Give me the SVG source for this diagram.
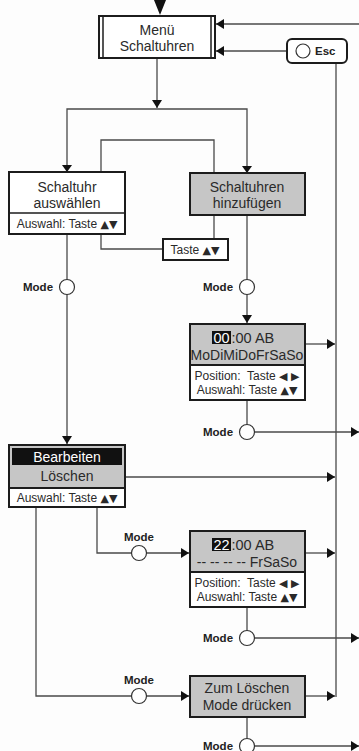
<svg xmlns="http://www.w3.org/2000/svg" width="359" height="751" viewBox="0 0 359 751">
<defs>
<style>
.box{stroke:#1c1c1c;stroke-width:2;fill:#fff}
.gray{fill:#c6c6c6}
.ln{stroke:#4a4a4a;stroke-width:1.3;fill:none}
.t{font-family:"Liberation Sans",Arial,sans-serif;font-size:14px;fill:#2a2a2a;text-anchor:middle}
.s{font-family:"Liberation Sans",Arial,sans-serif;font-size:12px;fill:#2a2a2a;text-anchor:middle}
.m{font-family:"Liberation Sans",Arial,sans-serif;font-size:11.5px;font-weight:bold;fill:#222}
.c{fill:#fff;stroke:#333;stroke-width:1.2}
.sym{font-family:"DejaVu Sans",sans-serif;font-size:11px}
.tm{font-family:"Liberation Sans",Arial,sans-serif;font-size:14.5px;fill:#2a2a2a}
</style>
<marker id="ah" viewBox="0 0 8 10" refX="8" refY="5" markerWidth="8" markerHeight="10" markerUnits="userSpaceOnUse" orient="auto">
<path d="M0,0 L8,5 L0,10 Z" fill="#111"/>
</marker>
</defs>
<rect width="359" height="751" fill="#fdfdfd"/>

<g id="connectors">
<polygon points="154,0 166,0 160,15" fill="#111"/>
<line class="ln" x1="359" y1="24" x2="216" y2="24" marker-end="url(#ah)"/>
<line class="ln" x1="287" y1="51" x2="216" y2="51" marker-end="url(#ah)"/>
<line class="ln" x1="336" y1="63" x2="336" y2="697"/>
<line class="ln" x1="157" y1="58" x2="157" y2="108" marker-end="url(#ah)"/>
<polyline class="ln" points="67,172 67,109 247,109 247,172"/>
<polygon points="62,165 72,165 67,172" fill="#111"/>
<polygon points="242,166 252,166 247,173" fill="#111"/>
<polyline class="ln" points="101,172 101,140 214,140 214,173"/>
<line class="ln" x1="214" y1="215" x2="214" y2="239"/>
<polyline class="ln" points="101,234 101,249 163,249"/>
<line class="ln" x1="67" y1="234" x2="67" y2="444" marker-end="url(#ah)"/>
<line class="ln" x1="247" y1="215" x2="247" y2="323" marker-end="url(#ah)"/>
<line class="ln" x1="305" y1="344" x2="335" y2="344" marker-end="url(#ah)"/>
<line class="ln" x1="247" y1="400" x2="247" y2="432"/>
<line class="ln" x1="247" y1="432" x2="359" y2="432" marker-end="url(#ah)"/>
<line class="ln" x1="125" y1="477" x2="335" y2="477" marker-end="url(#ah)"/>
<polyline class="ln" points="97,507 97,553 189,553" marker-end="url(#ah)"/>
<polyline class="ln" points="36,507 36,696 189,696" marker-end="url(#ah)"/>
<line class="ln" x1="305" y1="553" x2="335" y2="553" marker-end="url(#ah)"/>
<line class="ln" x1="247" y1="607" x2="247" y2="638"/>
<line class="ln" x1="247" y1="638" x2="359" y2="638" marker-end="url(#ah)"/>
<line class="ln" x1="305" y1="696" x2="335" y2="696" marker-end="url(#ah)"/>
<line class="ln" x1="247" y1="717" x2="247" y2="746"/>
<line class="ln" x1="247" y1="746" x2="359" y2="746" marker-end="url(#ah)"/>
</g>

<g id="menu">
<rect class="box" x="99" y="16" width="116" height="42"/>
<line x1="103" y1="16" x2="103" y2="58" stroke="#1c1c1c" stroke-width="1.5"/>
<line x1="211" y1="16" x2="211" y2="58" stroke="#1c1c1c" stroke-width="1.5"/>
<text class="t" x="157" y="35" font-size="13.5">Menü</text>
<text class="t" x="157" y="51" font-size="13.5">Schaltuhren</text>
</g>

<g id="esc">
<rect class="box" x="287" y="39" width="60" height="24" rx="5"/>
<circle class="c" cx="303" cy="51" r="7"/>
<text class="m" x="315" y="55">Esc</text>
</g>

<g id="schaltuhr-auswaehlen">
<rect class="box" x="9" y="172" width="116" height="62"/>
<line x1="9" y1="213" x2="125" y2="213" stroke="#1c1c1c" stroke-width="1.5"/>
<text class="t" x="67" y="192">Schaltuhr</text>
<text class="t" x="67" y="208">auswählen</text>
<text class="s" x="67" y="228">Auswahl: Taste <tspan class="sym">▲▼</tspan></text>
</g>

<g id="schaltuhren-hinzufuegen">
<rect class="box gray" x="190" y="173" width="115" height="42"/>
<text class="t" x="247" y="192">Schaltuhren</text>
<text class="t" x="247" y="208">hinzufügen</text>
</g>

<g id="taste">
<rect class="box" x="163" y="239" width="65" height="21" stroke-width="1.5"/>
<text class="s" x="195" y="254">Taste <tspan class="sym">▲▼</tspan></text>
</g>

<g id="mode1">
<circle class="c" cx="67" cy="287" r="7.5"/>
<text class="m" x="23" y="291">Mode</text>
</g>
<g id="mode2">
<circle class="c" cx="247" cy="287" r="7.5"/>
<text class="m" x="203" y="291">Mode</text>
</g>

<g id="zeit-00">
<rect class="box gray" x="190" y="324" width="115" height="41"/>
<rect class="box" x="190" y="365" width="115" height="35"/>
<rect x="212" y="331" width="19" height="13" fill="#111"/>
<text class="tm" x="221.5" y="343" text-anchor="middle" style="fill:#fff">00</text>
<text class="tm" x="231.5" y="343">:00 AB</text>
<text class="t" x="247" y="360" font-size="13.5">MoDiMiDoFrSaSo</text>
<text class="s" x="247" y="380">Position:&#160; Taste <tspan class="sym">◀ ▶</tspan></text>
<text class="s" x="247" y="394">Auswahl: Taste <tspan class="sym">▲▼</tspan></text>
</g>

<g id="mode3">
<circle class="c" cx="247" cy="432" r="7.5"/>
<text class="m" x="203" y="436">Mode</text>
</g>

<g id="bearbeiten">
<rect class="box gray" x="9" y="445" width="116" height="43"/>
<rect class="box" x="9" y="488" width="116" height="19"/>
<rect x="12" y="448" width="110" height="17" fill="#111"/>
<text class="t" x="67" y="462" style="fill:#fff">Bearbeiten</text>
<text class="t" x="67" y="481">Löschen</text>
<text class="s" x="67" y="502">Auswahl: Taste <tspan class="sym">▲▼</tspan></text>
</g>

<g id="mode4">
<circle class="c" cx="139" cy="553" r="7.5"/>
<text class="m" x="139" y="541" text-anchor="middle">Mode</text>
</g>

<g id="zeit-22">
<rect class="box gray" x="190" y="531" width="115" height="41"/>
<rect class="box" x="190" y="572" width="115" height="35"/>
<rect x="212" y="538" width="19" height="13" fill="#111"/>
<text class="tm" x="221.5" y="550" text-anchor="middle" style="fill:#fff">22</text>
<text class="tm" x="231.5" y="550">:00 AB</text>
<text class="t" x="247" y="567" font-size="13.5">-- -- -- -- FrSaSo</text>
<text class="s" x="247" y="587">Position:&#160; Taste <tspan class="sym">◀ ▶</tspan></text>
<text class="s" x="247" y="601">Auswahl: Taste <tspan class="sym">▲▼</tspan></text>
</g>

<g id="mode5">
<circle class="c" cx="247" cy="638" r="7.5"/>
<text class="m" x="203" y="642">Mode</text>
</g>

<g id="mode6">
<circle class="c" cx="139" cy="696" r="7.5"/>
<text class="m" x="139" y="684" text-anchor="middle">Mode</text>
</g>

<g id="zum-loeschen">
<rect class="box gray" x="190" y="676" width="115" height="41"/>
<text class="t" x="247" y="693">Zum Löschen</text>
<text class="t" x="247" y="710">Mode drücken</text>
</g>

<g id="mode7">
<circle class="c" cx="247" cy="746" r="7.5"/>
<text class="m" x="203" y="750">Mode</text>
</g>
</svg>
